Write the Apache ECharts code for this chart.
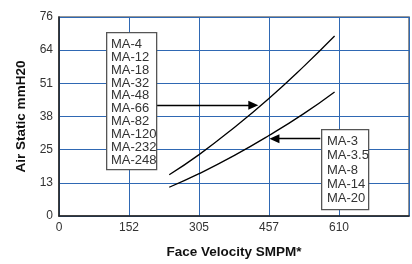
<!DOCTYPE html>
<html>
<head>
<meta charset="utf-8">
<script src="https://cdn.jsdelivr.net/npm/echarts@6/dist/echarts.min.js"></script>
<style>
html,body{margin:0;padding:0;background:#fff;}
#c{width:412px;height:264px;}
</style>
</head>
<body>
<div id="c"></div>
<script>
// Face velocity (SMPM) and air static pressure (mmH2O)
var upperX = [240, 305, 381, 457, 533, 600];
var upperY = [15.8, 23.5, 33.8, 45.0, 57.3, 68.9];
var lowerX = [240, 305, 381, 457, 533, 600];
var lowerY = [11.0, 16.2, 23.1, 30.8, 39.2, 47.5];
var xTickLabels = ['0', '152', '305', '457', '610', ''];
var yTickLabels = ['0', '13', '25', '38', '51', '64', '76'];
var upperModels = ['MA-4','MA-12','MA-18','MA-32','MA-48','MA-66','MA-82','MA-120','MA-232','MA-248'];
var lowerModels = ['MA-3','MA-3.5','MA-8','MA-14','MA-20'];
// annotation arrows (data coords): [fromX, toX, y]
var upperArrow = [209, 423, 42.4];
var lowerArrow = [569, 469, 29.6];

var X_STEP = 152.4, Y_STEP = 12.7;

function pairs(xs, ys){ return xs.map(function(x,i){ return [x, ys[i]]; }); }

var chart = echarts.init(document.getElementById('c'), null, {renderer:'canvas'});
var narrow = '"Liberation Sans Narrow", "Liberation Sans", Arial, sans-serif';
var gridColor = '#2f68b3';

function arrowLine(a){
  return {
    silent: true,
    symbol: ['none', 'triangle'],
    symbolSize: [9, 10],
    lineStyle: {color:'#000', width:1.3, type:'solid'},
    label: {show:false},
    data: [[{coord:[a[0], a[2]]}, {coord:[a[1], a[2]]}]]
  };
}

chart.setOption({
  animation: false,
  grid: {left:59, right:2, top:17, bottom:41, show:true, borderColor:'#777', borderWidth:1.6, backgroundColor:'#fff'},
  xAxis: {
    type:'value', min:0, max:762, interval:X_STEP,
    name:'Face Velocity SMPM*', nameLocation:'middle', nameGap:29,
    nameTextStyle:{fontFamily:'"Liberation Sans", Arial, sans-serif', fontWeight:'bold', fontSize:13.5, color:'#111'},
    axisLine:{show:true, lineStyle:{color:'#222', width:1.5}},
    axisTick:{show:false},
    splitLine:{show:true, lineStyle:{color:gridColor, width:1}},
    axisLabel:{fontFamily:narrow, fontSize:12, color:'#333', margin:6,
      formatter:function(v){ return xTickLabels[Math.round(v/X_STEP)] || ''; }}
  },
  yAxis: {
    type:'value', min:0, max:76.2, interval:Y_STEP,
    name:'Air Static mmH20', nameLocation:'middle', nameGap:30,
    nameTextStyle:{fontFamily:'"Liberation Sans", Arial, sans-serif', fontWeight:'bold', fontSize:13.5, color:'#111'},
    axisLine:{show:true, lineStyle:{color:'#222', width:1.5}},
    axisTick:{show:false},
    splitLine:{show:true, lineStyle:{color:gridColor, width:1}},
    axisLabel:{fontFamily:narrow, fontSize:12, color:'#333', margin:6,
      formatter:function(v){ return yTickLabels[Math.round(v/Y_STEP)] || ''; }}
  },
  series: [
    {type:'line', data:pairs(upperX, upperY), smooth:0.5, showSymbol:false,
     lineStyle:{color:'#000', width:1.3}, markLine: arrowLine(upperArrow), z:3},
    {type:'line', data:pairs(lowerX, lowerY), smooth:0.5, showSymbol:false,
     lineStyle:{color:'#000', width:1.3}, markLine: arrowLine(lowerArrow), z:3}
  ],
  graphic: [
    {type:'rect', left:106, top:32, shape:{width:50, height:137}, z:10,
     style:{fill:'#fff', stroke:'#555', lineWidth:1.3}},
    {type:'text', left:111, top:38, z:11,
     style:{text:upperModels.join('\n'), font:'13px ' + narrow, fill:'#333', lineHeight:12.85}},
    {type:'rect', left:321, top:129, shape:{width:47, height:80}, z:10,
     style:{fill:'#fff', stroke:'#555', lineWidth:1.3}},
    {type:'text', left:327, top:134.6, z:11,
     style:{text:lowerModels.join('\n'), font:'13px ' + narrow, fill:'#333', lineHeight:14.15}}
  ]
});
</script>
</body>
</html>
